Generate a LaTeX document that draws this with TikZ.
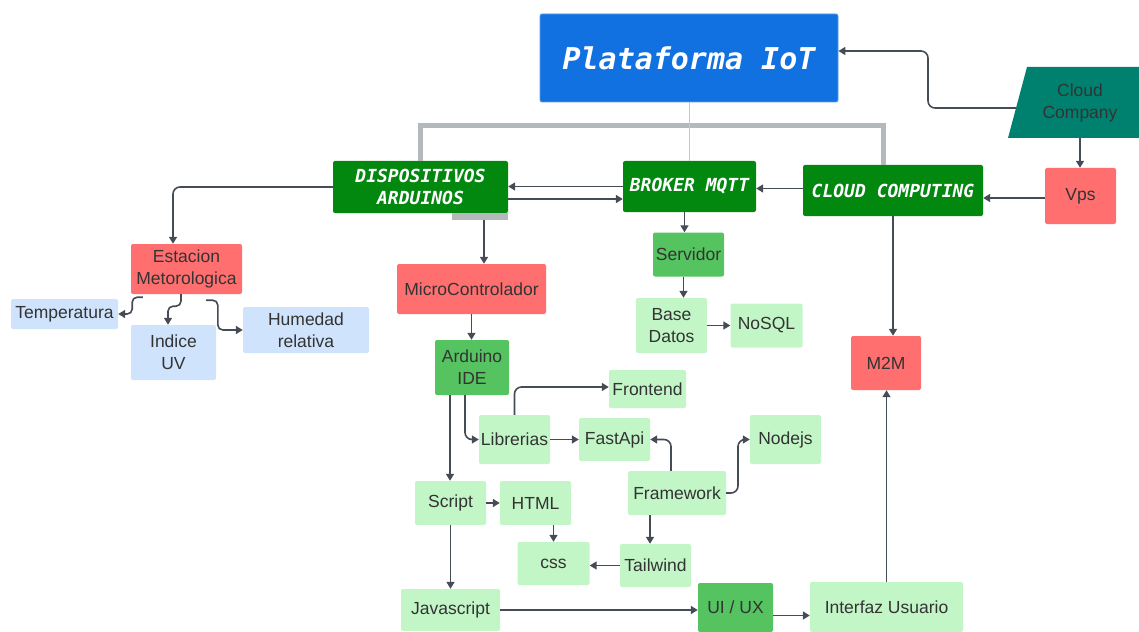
\documentclass[tikz,border=0pt]{standalone}
\usepackage{fontspec}
\setmainfont{Liberation Sans}
\newfontfamily\monofnt{DejaVu Sans Mono}[
  BoldFont={DejaVu Sans Mono Bold},
  ItalicFont={DejaVu Sans Mono Oblique},
  BoldItalicFont={DejaVu Sans Mono Bold Oblique}]
\usetikzlibrary{arrows.meta,calc}

\definecolor{txt}{HTML}{333333}
\definecolor{titleblue}{HTML}{1271E0}
\definecolor{darkgreen}{HTML}{03880F}
\definecolor{midgreen}{HTML}{55C35F}
\definecolor{lightgreen}{HTML}{C3F6C7}
\definecolor{salmon}{HTML}{FF6F6F}
\definecolor{lightblue}{HTML}{CFE4FC}
\definecolor{teal}{HTML}{00806E}
\definecolor{wire}{HTML}{454C55}
\definecolor{bracketgrey}{HTML}{B4BABC}

\tikzset{
  base/.style={rounded corners=2pt, inner sep=0pt, align=center, text=txt,
    font=\fontsize{17.5}{22}\selectfont},
  sz/.style 2 args={minimum width=#1pt, minimum height=#2pt},
  titlebox/.style={base, fill=titleblue, draw=titleblue!70!white, line width=0.8pt,
    text=white, font=\monofnt\bfseries\itshape\fontsize{30}{34}\selectfont},
  hubbox/.style={base, fill=darkgreen, text=white,
    font=\monofnt\bfseries\itshape\fontsize{18}{22}\selectfont},
  redbox/.style={base, fill=salmon},
  greenbox/.style={base, fill=midgreen},
  paleg/.style={base, fill=lightgreen},
  paleb/.style={base, fill=lightblue},
  arr/.style={draw=wire, line width=1.6pt, rounded corners=7pt,
    -{Triangle[length=7pt,width=8pt]}},
  bracket/.style={draw=bracketgrey, line width=5pt},
}

\begin{document}
\begin{tikzpicture}[x=1pt,y=-1pt]
\useasboundingbox (0,0) rectangle (1139,631);
\clip (0,0) rectangle (1139,631);

% top level
\node[titlebox, sz={298}{88}] (plat) at (689,58) {Plataforma IoT};
\node[hubbox, sz={175}{52}] (disp) at (420.5,187) {DISPOSITIVOS\\ARDUINOS};
\node[hubbox, sz={133}{51}] (broker) at (689.5,186.5) {BROKER MQTT};
\node[hubbox, sz={180}{51}] (cloudc) at (893,190.5) {CLOUD COMPUTING};
\node[redbox, sz={71}{56}] (vps) at (1080.5,196) {Vps};

% Cloud Company parallelogram
\fill[teal] (1027,67) -- (1165,67) -- (1146,138) -- (1008,138) -- cycle;
\node[base, sz={120}{71}] (company) at (1080,102.5) {Cloud\\Company};

% weather station branch
\node[redbox, sz={111}{50}] (estacion) at (186.5,269) {Estacion\\Metorologica};
\node[paleb, sz={107}{30}] (temp) at (64.5,314) {Temperatura};
\node[paleb, sz={85}{55}] (uv) at (173.5,352.5) {Indice\\UV};
\node[paleb, sz={126}{46}] (hum) at (306,330) {Humedad\\relativa};

% microcontroller branch
\node[redbox, sz={149}{50}] (micro) at (471.5,289) {MicroControlador};
\node[greenbox, sz={74}{55}] (ide) at (472,367.5) {Arduino\\IDE};
\node[paleg, sz={77}{38}] (front) at (647.5,389) {Frontend};
\node[paleg, sz={71}{49}] (libr) at (514.5,439.5) {Librerias};
\node[paleg, sz={71}{43}] (fast) at (614.5,439.5) {FastApi};
\node[paleg, sz={71}{49}] (nodejs) at (785.5,439.5) {Nodejs};
\node[paleg, sz={98}{44}] (frame) at (677,493) {Framework};
\node[paleg, sz={71}{44}] (script) at (450.5,503) {Script};
\node[paleg, sz={71}{44}] (html) at (535.5,503) {HTML};
\node[paleg, sz={72}{43}] (css) at (553.5,563.5) {css};
\node[paleg, sz={71}{43}] (tail) at (655.5,565.5) {Tailwind};
\node[paleg, sz={99}{42}] (js) at (450.5,610) {Javascript};
\node[greenbox, sz={75}{49}] (uiux) at (735.5,607.5) {UI / UX};
\node[paleg, sz={153}{50}] (interfaz) at (886.5,607) {Interfaz Usuario};

% broker branch
\node[greenbox, sz={71}{44}] (serv) at (688.5,254.5) {Servidor};
\node[paleg, sz={71}{55}] (based) at (671.5,325.5) {Base\\Datos};
\node[paleg, sz={72}{44}] (nosql) at (766.5,325.5) {NoSQL};
\node[redbox, sz={70}{54}] (m2m) at (886,363) {M2M};

% grey bracket joining the three hubs to the platform
\coordinate (brk) at (689,126);
\draw[bracket] (disp.north) |- (brk) -| ([xshift=-10pt]cloudc.north);
\draw[draw=bracketgrey!80!white, line width=1pt] (plat.south) -- (plat.south |- broker.north);
\fill[bracketgrey] ([xshift=-56pt]disp.south east) rectangle ([yshift=-7pt]disp.south east);

% cloud side
\coordinate (ccleft) at (1016,108);
\coordinate (ccbend) at (928,80);
\draw[arr] (ccleft) -| (ccbend) |- ([yshift=7pt]plat.east);
\draw[arr] (company.south) -- (company.south |- vps.north);
\draw[arr] ([yshift=-2pt]vps.west) -- ([yshift=-2pt]vps.west -| cloudc.east);
\draw[arr] ([yshift=2pt]cloudc.west) -- ([yshift=2pt]cloudc.west -| broker.east);
\draw[arr] (broker.west) -- (broker.west -| disp.east);
\draw[arr] ([yshift=-12pt]disp.east) -- ([yshift=-12pt]disp.east -| broker.west);
\draw[arr] (cloudc.south) -- (cloudc.south |- m2m.north);

% broker side
\draw[arr] ([xshift=-5pt]broker.south) -- ([xshift=-5pt]broker.south |- serv.north);
\draw[arr] ([xshift=-5pt]serv.south) -- ([xshift=-5pt]serv.south |- based.north);
\draw[arr] (based.east) -- (based.east -| nosql.west);

% weather station side
\draw[arr] (disp.west) -| ([xshift=-13.5pt]estacion.north);
\draw[arr, rounded corners=5pt] ([xshift=12pt,yshift=-3pt]estacion.south west)
  -| ([xshift=14pt]temp.east) -- (temp.east);
\draw[arr, rounded corners=5pt] ([xshift=-5.5pt]estacion.south) -- ++(0,12)
  -| ([xshift=-5.5pt]uv.north);
\draw[arr, rounded corners=5pt] ([xshift=19.5pt,yshift=-6pt]estacion.south)
  -| ([xshift=-25pt]hum.west) -- (hum.west);

% microcontroller side
\draw[arr] ([xshift=63.5pt,yshift=-7pt]disp.south) -- ([xshift=63.5pt]disp.south |- micro.north);
\draw[arr] (micro.south) -- (micro.south |- ide.north);
\draw[arr] ([xshift=-22pt]ide.south) -- ([xshift=-22pt]ide.south |- script.north);
\draw[arr] ([xshift=-7pt]ide.south) |- (libr.west);
\draw[arr] (libr.north) |- ([yshift=2pt]front.west);
\draw[arr] (libr.east) -- (libr.east -| fast.west);
\draw[arr] ([xshift=-6pt]frame.north) |- (fast.east);
\draw[arr] (frame.east) -| ($(frame.east)!0.5!(nodejs.west)$) |- (nodejs.west);
\draw[arr] ([xshift=-27pt]frame.south) -- ([xshift=-27pt]frame.south |- tail.north);
\draw[arr] (tail.west) -- (tail.west -| css.east);
\draw[arr] (css.north |- html.south) -- (css.north);
\draw[arr] (script.east) -- (script.east -| html.west);
\draw[arr] (script.south) -- (script.south |- js.north);
\draw[arr] (js.east) -- (js.east -| uiux.west);
\draw[arr] ([yshift=-8pt]uiux.east) -- ([yshift=-8pt]uiux.east -| interfaz.west);
\draw[arr] (interfaz.north) -- (interfaz.north |- m2m.south);
\end{tikzpicture}
\end{document}
